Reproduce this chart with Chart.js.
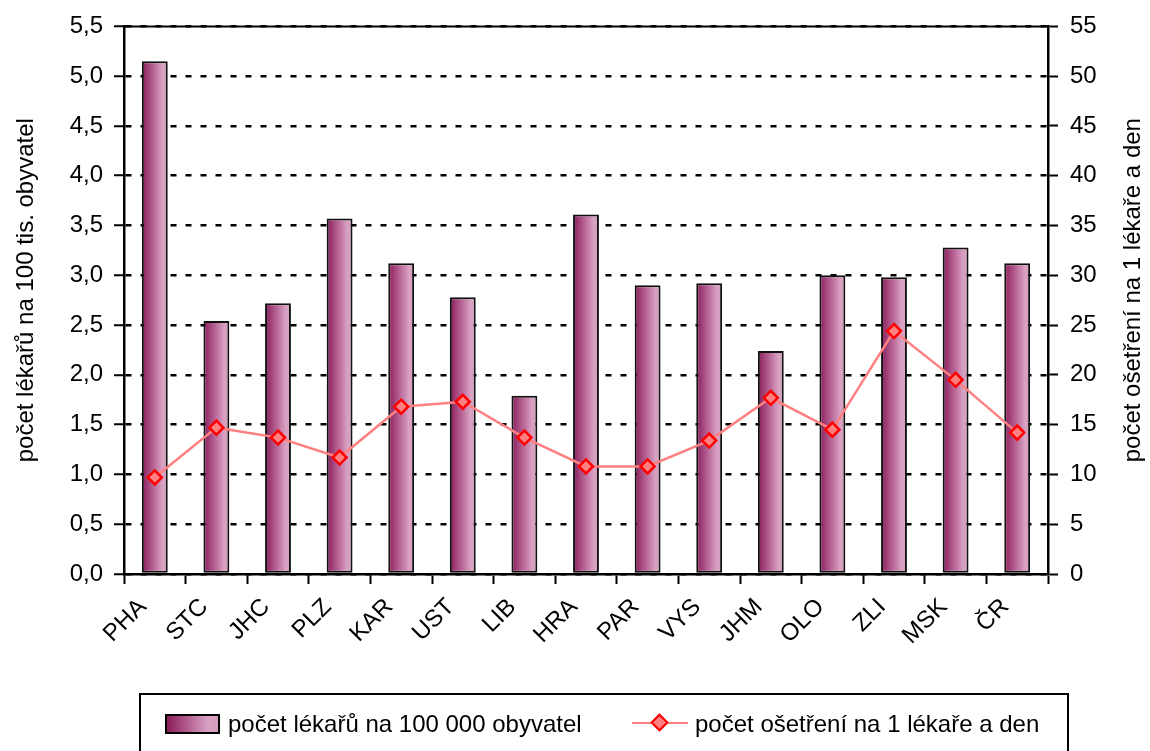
<!DOCTYPE html>
<html>
<head>
<meta charset="utf-8">
<script src="https://cdn.jsdelivr.net/npm/chart.js@4/dist/chart.umd.min.js"></script>
<style>
  html, body { margin: 0; padding: 0; background: #fff; }
  #wrap { position: relative; width: 1150px; height: 751px; overflow: hidden; }
  #legend {
    position: absolute; left: 139px; top: 693px; width: 930px; height: 90px;
    border: 2px solid #000; box-sizing: border-box;
    font-family: "Liberation Sans", Arial, sans-serif; font-size: 24px; color: #000;
  }
  .item { position: absolute; top: 14px; height: 30px; line-height: 30px; white-space: nowrap; }
  .swatch {
    position: absolute; left: 24px; top: 19px; width: 51px; height: 16px;
    border: 2px solid #000;
    background: linear-gradient(to right, #8a1c5a 0%, #b86596 45%, #d8a2c3 80%, #d49cbe 100%);
  }
  .lineKey { position: absolute; left: 491px; top: 27px; width: 56px; height: 2px; background: #ff8080; }
  .diamond {
    position: absolute; left: 512px; top: 21px; width: 9px; height: 9px;
    background: #ff8080; border: 2px solid #ff0000; transform: rotate(45deg);
  }
</style>
</head>
<body>
<div id="wrap">
  <canvas id="chart" width="1150" height="751"></canvas>
  <div id="legend">
    <div class="swatch"></div>
    <div class="item" style="left:87px">počet lékařů na 100 000 obyvatel</div>
    <div class="lineKey"></div>
    <div class="diamond"></div>
    <div class="item" style="left:554px">počet ošetření na 1 lékaře a den</div>
  </div>
</div>
<script>
// Data
const categories = ['PHA', 'STC', 'JHC', 'PLZ', 'KAR', 'UST', 'LIB', 'HRA', 'PAR', 'VYS', 'JHM', 'OLO', 'ZLI', 'MSK', 'ČR'];
const doctorsPer100k = [5.15, 2.54, 2.72, 3.57, 3.12, 2.78, 1.79, 3.61, 2.90, 2.92, 2.24, 3.00, 2.98, 3.28, 3.12];
const treatmentsPerDoctorDay = [9.7, 14.7, 13.7, 11.7, 16.8, 17.3, 13.7, 10.8, 10.8, 13.4, 17.7, 14.5, 24.4, 19.5, 14.2];
const leftTickLabels = ['0,0', '0,5', '1,0', '1,5', '2,0', '2,5', '3,0', '3,5', '4,0', '4,5', '5,0', '5,5'];
const rightTickLabels = ['0', '5', '10', '15', '20', '25', '30', '35', '40', '45', '50', '55'];
const leftTitle = 'počet lékařů na 100 tis. obyvatel';
const rightTitle = 'počet ošetření na 1 lékaře a den';

const FONT = '"Liberation Sans", Arial, sans-serif';
const BAR_PCT = 0.42;

function qs(id) { return document.getElementById(id); }

// per-bar horizontal gradient, computed from the category scale
function barGradient(ctx) {
  const chart = ctx.chart;
  const x = chart.scales && chart.scales.x;
  if (!x || !x.width || ctx.dataIndex == null) return '#b86596';
  const cx = x.getPixelForValue(ctx.dataIndex);
  const w = x.width / categories.length * BAR_PCT;
  const g = chart.ctx.createLinearGradient(cx - w / 2, 0, cx + w / 2, 0);
  g.addColorStop(0, '#8a1c5a');
  g.addColorStop(0.45, '#b86596');
  g.addColorStop(0.8, '#d8a2c3');
  g.addColorStop(1, '#d49cbe');
  return g;
}

// top frame line and the two rotated axis titles
const framePlugin = {
  id: 'frame',
  afterDraw(chart) {
    const { ctx, chartArea: a } = chart;
    ctx.save();
    ctx.strokeStyle = '#000';
    ctx.lineWidth = 2;
    ctx.beginPath();
    ctx.moveTo(a.left, a.top);
    ctx.lineTo(a.right, a.top);
    ctx.stroke();

    const cy = (a.top + a.bottom) / 2 - 10;
    ctx.fillStyle = '#000';
    ctx.font = '24px ' + FONT;
    ctx.textAlign = 'center';
    ctx.textBaseline = 'middle';
    ctx.translate(26, cy);
    ctx.rotate(-Math.PI / 2);
    ctx.fillText(leftTitle, 0, 0);
    ctx.restore();

    ctx.save();
    ctx.fillStyle = '#000';
    ctx.font = '24px ' + FONT;
    ctx.textAlign = 'center';
    ctx.textBaseline = 'middle';
    ctx.translate(chart.width - 17, cy);
    ctx.rotate(-Math.PI / 2);
    ctx.fillText(rightTitle, 0, 0);
    ctx.restore();
  }
};

new Chart(qs('chart').getContext('2d'), {
  data: {
    labels: categories,
    datasets: [
      {
        type: 'line',
        label: 'počet ošetření na 1 lékaře a den',
        data: treatmentsPerDoctorDay,
        yAxisID: 'y1',
        order: 0,
        borderColor: '#ff8080',
        borderWidth: 2.5,
        tension: 0,
        pointStyle: 'rectRot',
        pointRadius: 7,
        pointBorderWidth: 2.5,
        pointBorderColor: '#ff0000',
        pointBackgroundColor: '#ff8080',
      },
      {
        type: 'bar',
        label: 'počet lékařů na 100 000 obyvatel',
        data: doctorsPer100k,
        yAxisID: 'y',
        order: 1,
        backgroundColor: barGradient,
        borderColor: '#111',
        borderWidth: 2,
        borderSkipped: false,
        categoryPercentage: 1,
        barPercentage: BAR_PCT,
      },
    ],
  },
  options: {
    responsive: false,
    animation: false,
    events: [],
    layout: { padding: { top: 24, left: 0, right: 0, bottom: 0 } },
    plugins: {
      legend: { display: false },
      tooltip: { enabled: false },
    },
    scales: {
      x: {
        offset: true,
        afterFit: (s) => { s.height = 177; },
        grid: { drawOnChartArea: false, drawTicks: true, tickLength: 10, tickWidth: 2, color: '#000', offset: true },
        border: { color: '#000', width: 2.5 },
        ticks: {
          color: '#000', font: { family: FONT, size: 24 },
          minRotation: 45, maxRotation: 45, padding: 9, labelOffset: -12, autoSkip: false,
        },
      },
      y: {
        position: 'left',
        min: 0, max: 5.5,
        afterFit: (s) => { s.width = 124; },
        grid: { color: '#000', lineWidth: 2.5, tickLength: 10, tickWidth: 2 },
        border: { color: '#000', width: 2.5, dash: [6, 9] },
        ticks: {
          stepSize: 0.5, color: '#000', font: { family: FONT, size: 24 }, padding: 11,
          callback: (v, i) => leftTickLabels[i],
        },
      },
      y1: {
        position: 'right',
        min: 0, max: 55,
        afterFit: (s) => { s.width = 102; },
        grid: { drawOnChartArea: false, color: '#000', tickLength: 10, tickWidth: 2 },
        border: { color: '#000', width: 2.5 },
        ticks: {
          stepSize: 5, color: '#000', font: { family: FONT, size: 24 }, padding: 12,
          callback: (v, i) => rightTickLabels[i],
        },
      },
    },
  },
  plugins: [framePlugin],
});
</script>
</body>
</html>
